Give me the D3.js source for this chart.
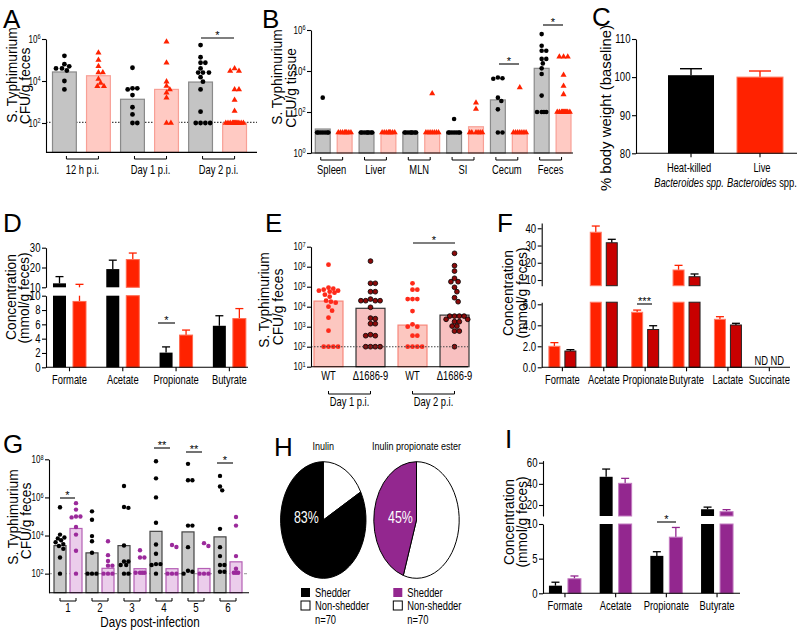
<!DOCTYPE html>
<html>
<head>
<meta charset="utf-8">
<script src="https://cdn.jsdelivr.net/npm/d3@7"></script>
<style>
  body { margin: 0; background: #fff; }
</style>
</head>
<body>
<svg id="fig" width="800" height="636"></svg>
<script>
const FONT = '"Liberation Sans",Arial,sans-serif';

// ---------------- data ----------------
// A: log10 CFU/g feces, order per group: heat-killed, live
const aGroups = ['12 h p.i.', 'Day 1 p.i.', 'Day 2 p.i.'];
const aMedians = [4.43, 4.25, 3.13, 3.6, 3.95, 2.0];
const aPoints = [
  [5.2, 4.8, 4.7, 4.6, 4.6, 4.5, 4.0, 3.6],
  [5.35, 5.0, 4.7, 4.4, 4.4, 4.1, 3.9, 3.75, 3.75],
  [4.63, 3.65, 3.65, 3.6, 3.33, 2.75, 2.41, 2.0, 2.0],
  [5.87, 4.87, 3.97, 3.76, 3.6, 3.44, 3.2, 2.0, 2.0],
  [5.71, 5.13, 4.87, 4.87, 4.6, 4.4, 4.4, 4.4, 4.18, 3.97, 3.6, 2.54, 2.0, 2.0, 2.0, 2.0],
  [4.6, 4.48, 4.48, 3.6, 3.6, 3.1, 2.57, 2, 2, 2, 2, 2, 2, 2, 2, 2, 2, 2, 2]
];

// B: log10 CFU/g tissue
const bGroups = ['Spleen', 'Liver', 'MLN', 'SI', 'Cecum', 'Feces'];
const bMedians = [1.17, 1.0, 1.0, 1.0, 1.0, 1.0, 1.0, 1.28, 2.59, 1.0, 4.13, 2.0];
const bPoints = [
  [2.7, 1, 1, 1, 1, 1, 1, 1],
  [1, 1, 1, 1, 1, 1, 1, 1],
  [1, 1, 1, 1, 1, 1, 1, 1],
  [1, 1, 1, 1, 1, 1, 1, 1],
  [1, 1, 1, 1, 1, 1, 1, 1],
  [2.9, 1, 1, 1, 1, 1, 1, 1],
  [1.66, 1, 1, 1, 1, 1, 1, 1],
  [2.45, 2.15, 1, 1, 1, 1, 1, 1],
  [3.65, 3.62, 3.68, 2.7, 2.54, 2.13, 1, 1],
  [3.2, 1, 1, 1, 1, 1, 1, 1],
  [5.8, 5.23, 4.99, 4.99, 4.59, 4.59, 4.37, 4.13, 3.85, 2.8, 2, 2, 2, 2],
  [4.7, 4.7, 4.7, 3.8, 3.27, 2.86, 2, 2, 2, 2, 2, 2, 2, 2, 2, 2]
];

// C: % body weight
const cGroups = ['Heat-killed', 'Live'];
const cMeans = [100.5, 100.0];
const cErrs = [1.7, 1.6];

// D: SCFA, mmol/g feces
const dAcids = ['Formate', 'Acetate', 'Propionate', 'Butyrate'];
const dHeatKilled = [12.0, 19.2, 2.05, 5.8];
const dHeatKilledErr = [3.4, 4.5, 0.8, 1.4];
const dLive = [9.2, 24.0, 4.5, 6.8];
const dLiveErr = [2.3, 3.3, 0.7, 1.4];

// E: log10 CFU/g feces
const eLabels = ['WT', '\u03941686-9', 'WT', '\u03941686-9'];
const eDays = ['Day 1 p.i.', 'Day 2 p.i.'];
const eMedians = [4.28, 3.92, 3.08, 3.58];
const ePoints = [
  [6.1, 4.95, 4.9, 4.85, 4.8, 4.8, 4.75, 4.7, 4.6, 4.5, 4.3, 4.25, 4.2, 4.0, 3.8, 3.45, 2.8, 2, 2, 2, 2],
  [6.28, 5.17, 5.17, 4.75, 4.75, 4.38, 4.3, 4.3, 4.3, 4.3, 3.97, 3.43, 3.4, 3.15, 3.15, 2.55, 2.55, 2.6, 2, 2, 2, 2],
  [5.17, 4.85, 4.85, 4.38, 4.38, 4.38, 3.78, 3.12, 3.0, 3.0, 2.55, 2.55, 2, 2, 2, 2],
  [6.67, 6.05, 5.78, 5.42, 5.25, 5.25, 4.97, 4.75, 4.45, 4.25, 3.53, 3.53, 3.53, 3.53, 3.37, 3.37, 3.25, 3.25, 3.03, 3.03, 2.78, 2.78, 2.0]
];

// F: SCFA, mmol/g feces (bright red / dark red strains)
const fAcids = ['Formate', 'Acetate', 'Propionate', 'Butyrate', 'Lactate', 'Succinate'];
const fRed = [2.0, 37.7, 5.24, 15.8, 4.57, null];
const fRedErr = [0.35, 3.6, 0.21, 2.7, 0.25, null];
const fDark = [1.55, 31.6, 3.6, 11.9, 4.03, null];
const fDarkErr = [0.13, 2.0, 0.36, 1.6, 0.16, null];

// G: log10 CFU/g feces per day, inulin (black) vs inulin propionate ester (purple)
const gDays = ['1', '2', '3', '4', '5', '6'];
const gInulinMed = [3.47, 3.09, 3.47, 4.22, 4.19, 3.93];
const gIpeMed = [4.37, 2.28, 2.26, 2.26, 2.27, 2.62];
const gInulinPts = [
  [5.48, 4.05, 3.9, 3.85, 3.75, 3.65, 3.55, 3.45, 3.3, 2.85, 2.0],
  [5.27, 4.83, 3.97, 3.7, 3.1, 2, 2, 2],
  [6.6, 5.5, 5.45, 3.48, 2.64, 2.64, 2.45, 2.45, 2, 2],
  [7.9, 7.0, 6.0, 4.67, 3.53, 3.04, 2.5, 2.5, 2.45, 2.0],
  [7.76, 6.9, 6.9, 4.52, 4.52, 3.39, 2.15, 2.1, 2.0],
  [7.13, 6.57, 6.37, 4.35, 3.39, 2.92, 2.45, 2.45, 2.1, 2.1]
];
const gIpePts = [
  [5.7, 5.36, 5.0, 5.0, 4.95, 4.45, 4.05, 3.2, 2.0],
  [3.7, 2.97, 2.66, 2.42, 2.42, 2, 2, 2],
  [3.23, 2.85, 2.85, 2.05, 2.05, 2.05, 2.05],
  [3.5, 3.4, 2, 2, 2],
  [3.6, 3.45, 2, 2, 2],
  [4.97, 4.52, 2.92, 2.26, 2.05, 2.05, 2.05]
];

// H: shedders, %
const hTitles = ['Inulin', 'Inulin propionate ester'];
const hShedder = [83, 45];
const hN = [70, 70];

// I: SCFA, mmol/g feces
const iAcids = ['Formate', 'Acetate', 'Propionate', 'Butyrate'];
const iInulin = [1.1, 46.7, 5.4, 16.0];
const iInulinErr = [0.5, 7.3, 0.6, 2.0];
const iIpe = [2.1, 40.5, 8.1, 13.7];
const iIpeErr = [0.4, 4.7, 1.4, 1.9];

// colours
const RED = '#ff2200', DARKRED = '#c80000', PURPLE = '#93278f';
const GRAYBAR = { fill: '#c4c4c4', stroke: '#8a8a8a' };
const PINKBAR = { fill: '#ffcac3', stroke: '#f8a096' };

// ---------------- helpers ----------------
const svg = d3.select('#fig').attr('font-family', FONT);
svg.append('rect').attr('width', 800).attr('height', 636).attr('fill', '#fff');

// text squeezed horizontally by k (the figure uses a condensed face)
function text(g, x, y, s, size, anchor, k) {
  k = k || 0.75;
  return g.append('text').attr('x', x / k).attr('y', y).attr('font-size', size)
    .attr('transform', `scale(${k},1)`)
    .attr('text-anchor', anchor || 'middle').attr('fill', '#000').text(s);
}

function rotLabel(g, x, cy, s, size, k) {
  return g.append('text')
    .attr('transform', `translate(${x},${cy}) rotate(-90) scale(${k || 0.92},1)`)
    .attr('text-anchor', 'middle').attr('font-size', size).attr('fill', '#000').text(s);
}

function letter(x, y, s) {
  svg.append('text').attr('x', x).attr('y', y).attr('font-size', 26).text(s);
}

function squeeze(sel, k) {
  sel.each(function () {
    const t = d3.select(this);
    const x = +t.attr('x') || 0;
    t.attr('x', x / k).attr('transform', `scale(${k},1)`);
  });
}

function styleAxis(ax, size) {
  ax.attr('font-family', FONT).attr('font-size', size);
  ax.selectAll('path,line').attr('stroke', '#000').attr('stroke-width', 1.1);
  ax.selectAll('text').attr('fill', '#000');
  return ax;
}

function yAxis(g, x0, y, vals, size) {
  const ax = g.append('g').attr('transform', `translate(${x0},0)`)
    .call(d3.axisLeft(y).tickValues(vals).tickSize(4).tickSizeOuter(0).tickPadding(1.5));
  styleAxis(ax, size || 12);
  squeeze(ax.selectAll('.tick text'), 0.8);
  return ax;
}

function logAxis(g, x0, y, vals) {
  const ax = yAxis(g, x0, y, vals, 10);
  ax.selectAll('.tick text').each(function (d) {
    const t = d3.select(this).text('');
    t.append('tspan').text('10');
    t.append('tspan').attr('dy', '-0.5em').attr('font-size', 7).text(d);
  });
  return ax;
}

function xAxis(g, x, y0, size) {
  const xa = g.append('g').attr('transform', `translate(0,${y0})`)
    .call(d3.axisBottom(x).tickSize(4).tickSizeOuter(0).tickPadding(4));
  styleAxis(xa, size).select('.domain').remove();
  squeeze(xa.selectAll('.tick text'), 0.75);
  return xa;
}

function hline(g, x1, x2, y, dash, color) {
  return g.append('line').attr('x1', x1).attr('x2', x2).attr('y1', y).attr('y2', y)
    .attr('stroke', color || '#000').attr('stroke-width', 1.1)
    .attr('stroke-dasharray', dash || null);
}

function bracket(g, x1, x2, y, label, ty, size) {
  g.append('path').attr('d', `M${x1},${y}V${y + 3}H${x2}V${y}`)
    .attr('fill', 'none').attr('stroke', '#000').attr('stroke-width', 1);
  if (label) text(g, (x1 + x2) / 2, ty, label, size || 12.5);
}

function sig(g, x1, x2, y, s) {
  hline(g, x1, x2, y);
  text(g, (x1 + x2) / 2, y + 1, s, 11, 'middle', 1);
}

// deterministic swarm: highest values first, nudged sideways until free
function swarm(vals, y, r, half) {
  const order = d3.range(vals.length).sort((a, b) => vals[b] - vals[a]);
  const placed = [], out = [];
  const step = r / 2;
  order.forEach(i => {
    const py = y(vals[i]);
    let best = 0, bestD = -1;
    for (let k = 0; ; k++) {
      const dx = k === 0 ? 0 : (k % 2 ? 1 : -1) * Math.ceil(k / 2) * step;
      if (Math.abs(dx) > half) break;
      let dmin = Infinity;
      placed.forEach(p => { dmin = Math.min(dmin, Math.hypot(p.x - dx, p.y - py)); });
      if (dmin >= 2 * r) { best = dx; bestD = Infinity; break; }
      if (dmin > bestD) { bestD = dmin; best = dx; }
    }
    const p = { x: best, y: py };
    placed.push(p);
    out[i] = p;
  });
  return out;
}

// bars (median) + individual points
function scatterBars(g, x, y, medians, points, styleOf) {
  const y0 = y.range()[0];
  medians.forEach((m, i) => {
    const st = styleOf(i);
    g.append('rect').attr('x', x(i)).attr('width', x.bandwidth())
      .attr('y', y(m)).attr('height', y0 - y(m))
      .attr('fill', st.fill).attr('stroke', st.stroke).attr('stroke-width', 1.2);
  });
  points.forEach((vals, i) => {
    const st = styleOf(i);
    const cx = x(i) + x.bandwidth() / 2;
    swarm(vals, y, st.r, x.bandwidth() / 2 - 1).forEach(p => {
      if (st.shape === 'tri') {
        g.append('path').attr('d', d3.symbol(d3.symbolTriangle, 16)())
          .attr('transform', `translate(${cx + p.x},${p.y})`).attr('fill', st.dot);
      } else {
        g.append('circle').attr('cx', cx + p.x).attr('cy', p.y).attr('r', st.r)
          .attr('fill', st.dot).attr('stroke', st.dotStroke || 'none').attr('stroke-width', 0.8);
      }
    });
  });
}

// bars on a broken y axis (lower scale lo, upper scale hi)
function brokenBars(g, lo, hi, cx, w, v, e, fill, stroke, errColor) {
  if (v == null) return;
  const loMax = lo.domain()[1], hiMin = hi.domain()[0];
  const yy = t => (t <= loMax ? lo(t) : hi(Math.max(t, hiMin)));
  const bar = (y1, y2) => g.append('rect').attr('x', cx - w / 2).attr('width', w)
    .attr('y', y2).attr('height', y1 - y2).attr('fill', fill)
    .attr('stroke', stroke || 'none').attr('stroke-width', 1);
  const seg = (y1, y2) => g.append('line').attr('x1', cx).attr('x2', cx).attr('y1', y1).attr('y2', y2)
    .attr('stroke', errColor).attr('stroke-width', 1.3);
  // whisker first so the bar covers its root
  const top = v + e;
  if (top <= loMax) seg(lo(v), lo(top));
  else if (v <= loMax) { seg(lo(v), lo(loMax)); seg(hi(hiMin), hi(top)); }
  else seg(hi(v), hi(top));
  g.append('line').attr('x1', cx - 4).attr('x2', cx + 4).attr('y1', yy(top)).attr('y2', yy(top))
    .attr('stroke', errColor).attr('stroke-width', 1.3);
  bar(lo(0), lo(Math.min(v, loMax)));
  if (v > loMax) bar(hi(hiMin), hi(v));
}

// ================= A =================
{
  const g = svg.append('g');
  letter(3, 28, 'A');
  const y = d3.scaleLinear().domain([0.6, 6]).range([152.4, 39]);
  const x = d3.scaleBand().domain(d3.range(6)).range([52.5, 246.5]).paddingInner(0.3);
  hline(g, 46, 257, 122.4, '1.5,1.5', '#444');
  scatterBars(g, x, y, aMedians, aPoints, i => i % 2 === 0
    ? { ...GRAYBAR, dot: '#000', r: 2.4 }
    : { ...PINKBAR, dot: RED, r: 2.2, shape: 'tri' });
  logAxis(g, 46, y, [2, 4, 6]);
  hline(g, 46, 257, 152.4);
  aGroups.forEach((s, k) => {
    const c1 = x(2 * k) + x.bandwidth() / 2, c2 = x(2 * k + 1) + x.bandwidth() / 2;
    bracket(g, c1 + 2, c2, 156, s, 174);
  });
  sig(g, 201, 234, 38, '*');
  rotLabel(g, 16.5, 75, 'S. Typhimurium', 15);
  rotLabel(g, 30, 86, 'CFU/g feces', 15);
}

// ================= B =================
{
  const g = svg.append('g');
  letter(262, 28, 'B');
  const y = d3.scaleLinear().domain([0, 6]).range([153, 30]);
  const x = d3.scaleBand().domain(d3.range(12)).range([315.3, 571]).paddingInner(0.32);
  scatterBars(g, x, y, bMedians, bPoints, i => i % 2 === 0
    ? { ...GRAYBAR, dot: '#000', r: 2.3 }
    : { ...PINKBAR, dot: RED, r: 2.1, shape: 'tri' });
  logAxis(g, 311, y, [0, 2, 4, 6]);
  hline(g, 311, 573, 153);
  bGroups.forEach((s, k) => {
    const c1 = x(2 * k) + x.bandwidth() / 2, c2 = x(2 * k + 1) + x.bandwidth() / 2;
    bracket(g, c1 - 2, c2 - 2, 157, s, 174);
  });
  sig(g, 499, 519, 64, '*');
  sig(g, 543, 563, 25, '*');
  rotLabel(g, 282, 77, 'S. Typhimurium', 15);
  rotLabel(g, 295.5, 88, 'CFU/g tissue', 15);
}

// ================= C =================
{
  const g = svg.append('g');
  letter(592, 26, 'C');
  const y = d3.scaleLinear().domain([80, 110]).range([153.3, 39]);
  const x = d3.scaleBand().domain(cGroups).range([668, 783]).paddingInner(0.333);
  const cols = ['#000', RED];
  cGroups.forEach((k, i) => {
    const cx = x(k) + x.bandwidth() / 2;
    g.append('line').attr('x1', cx).attr('x2', cx).attr('y1', y(cMeans[i])).attr('y2', y(cMeans[i] + cErrs[i]))
      .attr('stroke', cols[i]).attr('stroke-width', 1.4);
    hline(g, cx - 11, cx + 11, y(cMeans[i] + cErrs[i]), null, cols[i]).attr('stroke-width', 1.4);
    g.append('rect').attr('x', x(k)).attr('width', x.bandwidth())
      .attr('y', y(cMeans[i])).attr('height', y(80) - y(cMeans[i]))
      .attr('fill', cols[i]).attr('stroke', i ? '#ff7a60' : 'none');
  });
  yAxis(g, 636, y, [80, 90, 100, 110], 12);
  const xa = g.append('g').attr('transform', 'translate(0,153.3)')
    .call(d3.axisBottom(x).tickSize(4).tickSizeOuter(0).tickFormat(''));
  styleAxis(xa, 11).select('.domain').remove();
  hline(g, 636, 797, 153.3);
  const c0 = x(cGroups[0]) + x.bandwidth() / 2, c1 = x(cGroups[1]) + x.bandwidth() / 2;
  text(g, c0 - 2, 172, cGroups[0], 12.5);
  text(g, c0 - 2, 187, 'Bacteroides spp.', 12.5).attr('font-style', 'italic');
  text(g, c1 + 2, 172, cGroups[1], 12.5);
  const t2 = text(g, c1 + 2, 187, '', 12.5);
  t2.append('tspan').attr('font-style', 'italic').text('Bacteroides');
  t2.append('tspan').text(' spp.');
  rotLabel(g, 611, 108, '% body weight (baseline)', 15.5, 0.96);
}

// ================= D =================
{
  const g = svg.append('g');
  letter(3, 232, 'D');
  const lo = d3.scaleLinear().domain([0, 10]).range([367.3, 295.7]);
  const hi = d3.scaleLinear().domain([10, 30]).range([287.3, 247.7]);
  const x = d3.scaleBand().domain(dAcids).range([42.85, 256]);
  dAcids.forEach((k, i) => {
    const c = x(k) + x.bandwidth() / 2;
    brokenBars(g, lo, hi, c - 10, 13, dHeatKilled[i], dHeatKilledErr[i], '#000', null, '#000');
    brokenBars(g, lo, hi, c + 10, 13, dLive[i], dLiveErr[i], RED, '#ff6a50', RED);
  });
  yAxis(g, 46, lo, [0, 2, 4, 6, 8, 10], 12);
  yAxis(g, 46, hi, [10, 20, 30], 12);
  hline(g, 46, 248, 367.3);
  xAxis(g, x, 367.3, 12.5);
  sig(g, 158, 175, 323, '*');
  rotLabel(g, 15.5, 297, 'Concentration', 15);
  rotLabel(g, 29, 298, '(mmol/g feces)', 15);
}

// ================= E =================
{
  const g = svg.append('g');
  letter(265, 232, 'E');
  const y = d3.scaleLinear().domain([1, 7]).range([366.7, 246.7]);
  const x = d3.scaleBand().domain(d3.range(4)).range([314, 469]).paddingInner(0.31);
  scatterBars(g, x, y, eMedians, ePoints, i => i % 2 === 0
    ? { fill: '#fcc7c0', stroke: '#f7877b', dot: '#ff2a1a', r: 2.4 }
    : { fill: '#f8c0c0', stroke: '#333', dot: '#8b0a0a', dotStroke: '#000', r: 2.4 });
  hline(g, 311, 468, y(2), '1.5,1.5', '#444');
  logAxis(g, 311, y, d3.range(1, 8));
  hline(g, 311, 468, 366.7);
  eLabels.forEach((s, i) => text(g, x(i) + x.bandwidth() / 2, 380, s, 12.5));
  eDays.forEach((s, k) => {
    const c1 = x(2 * k) + x.bandwidth() / 2, c2 = x(2 * k + 1) + x.bandwidth() / 2;
    bracket(g, c1, c2, 391, s, 406);
  });
  sig(g, 413, 455, 243, '*');
  rotLabel(g, 269, 300, 'S. Typhimurium', 15);
  rotLabel(g, 283, 307, 'CFU/g feces', 15);
}

// ================= F =================
{
  const g = svg.append('g');
  letter(497, 232, 'F');
  const lo = d3.scaleLinear().domain([0, 6.2]).range([367.3, 302.2]);
  const hi = d3.scaleLinear().domain([6.7, 43]).range([285.7, 223.1]);
  const x = d3.scaleBand().domain(fAcids).range([541.7, 790]);
  fAcids.forEach((k, i) => {
    const c = x(k) + x.bandwidth() / 2;
    brokenBars(g, lo, hi, c - 8, 11, fRed[i], fRedErr[i], RED, '#ff7a66', RED);
    brokenBars(g, lo, hi, c + 8, 11, fDark[i], fDarkErr[i], DARKRED, '#222', '#000');
    if (fRed[i] == null) {
      text(g, c - 8, 365, 'ND', 12.5);
      text(g, c + 8, 365, 'ND', 12.5);
    }
  });
  yAxis(g, 541.7, lo, [0, 2, 4, 6], 12);
  yAxis(g, 541.7, hi, [10, 20, 30, 40], 12);
  hline(g, 541.7, 790, 367.3);
  xAxis(g, x, 367.3, 12.5);
  sig(g, 637, 652, 304, '***');
  rotLabel(g, 513, 293, 'Concentration', 15);
  rotLabel(g, 526.5, 293, '(mmol/g feces)', 15);
}

// ================= G =================
{
  const g = svg.append('g');
  letter(3, 453, 'G');
  const y = d3.scaleLinear().domain([1, 8]).range([592.7, 459.3]);
  const x = d3.scaleBand().domain(d3.range(12)).range([54, 242]).paddingInner(0.25);
  hline(g, 49, 249, y(2), '3,2', '#aaa');
  const meds = [], pts = [];
  gDays.forEach((d, k) => { meds.push(gInulinMed[k], gIpeMed[k]); pts.push(gInulinPts[k], gIpePts[k]); });
  scatterBars(g, x, y, meds, pts, i => i % 2 === 0
    ? { fill: '#c9c9c9', stroke: '#444', dot: '#000', r: 2.2 }
    : { fill: '#ebcdeb', stroke: '#b55fb5', dot: '#9b2a9b', r: 2.2 });
  logAxis(g, 49, y, [2, 4, 6, 8]);
  hline(g, 49, 249, 592.7);
  gDays.forEach((s, k) => {
    const c1 = x(2 * k) + x.bandwidth() / 2, c2 = x(2 * k + 1) + x.bandwidth() / 2;
    bracket(g, c1, c2, 598, s, 612, 13);
  });
  text(g, 150, 627, 'Days post-infection', 15, 'middle', 0.78);
  sig(g, 60, 75, 498, '*');
  sig(g, 154, 170, 448, '**');
  sig(g, 186, 202, 452, '**');
  sig(g, 217, 233, 463, '*');
  rotLabel(g, 17.5, 517, 'S. Typhimurium', 15);
  rotLabel(g, 31, 521, 'CFU/g feces', 15);
}

// ================= H =================
{
  const g = svg.append('g');
  letter(274, 456, 'H');
  const cxs = [323.3, 416.5], cy = 520, rx = 42.7, ry = 58.3;
  const shedCols = ['#000', PURPLE];
  const pie = d3.pie().sort(null);
  const arc = d3.arc().innerRadius(0).outerRadius(rx);
  hShedder.forEach((p, k) => {
    const pg = g.append('g').attr('transform', `translate(${cxs[k]},${cy}) scale(1,${ry / rx})`);
    pg.selectAll('path').data(pie([100 - p, p])).join('path')
      .attr('d', arc).attr('fill', (d, i) => (i ? shedCols[k] : '#fff'))
      .attr('stroke', '#000').attr('stroke-width', 1).attr('vector-effect', 'non-scaling-stroke');
    text(g, cxs[k], 450, hTitles[k], 11, 'middle', 0.82);
    text(g, cxs[k] - (k ? 16 : 17), 523, p + '%', 16.5).attr('fill', '#fff');
    const lx = k ? 393.3 : 301;
    g.append('rect').attr('x', lx).attr('y', 588).attr('width', 9).attr('height', 9).attr('fill', shedCols[k]);
    g.append('rect').attr('x', lx).attr('y', 601).attr('width', 9).attr('height', 9)
      .attr('fill', '#fff').attr('stroke', '#000');
    text(g, lx + 14, 597, 'Shedder', 12.5, 'start');
    text(g, lx + 14, 610, 'Non-shedder', 12.5, 'start');
    text(g, lx + 14, 624, 'n=' + hN[k], 12.5, 'start');
  });
}

// ================= I =================
{
  const g = svg.append('g');
  letter(505, 448, 'I');
  const lo = d3.scaleLinear().domain([0, 10]).range([593.3, 524]);
  const hi = d3.scaleLinear().domain([9.6, 62]).range([516, 460.6]);
  const x = d3.scaleBand().domain(iAcids).range([539.6, 742.4]);
  iAcids.forEach((k, i) => {
    const c = x(k) + x.bandwidth() / 2;
    brokenBars(g, lo, hi, c - 9.5, 13, iInulin[i], iInulinErr[i], '#000', null, '#000');
    brokenBars(g, lo, hi, c + 9.5, 13, iIpe[i], iIpeErr[i], PURPLE, '#c27ac0', PURPLE);
  });
  yAxis(g, 543, lo, [0, 5, 10], 12);
  yAxis(g, 543, hi, [20, 40, 60], 12);
  hline(g, 543, 740, 593.3);
  xAxis(g, x, 593.3, 12.5);
  sig(g, 657, 676, 522, '*');
  rotLabel(g, 513.5, 522, 'Concentration', 15);
  rotLabel(g, 527, 522, '(mmol/g feces)', 15);
}
</script>
</body>
</html>
